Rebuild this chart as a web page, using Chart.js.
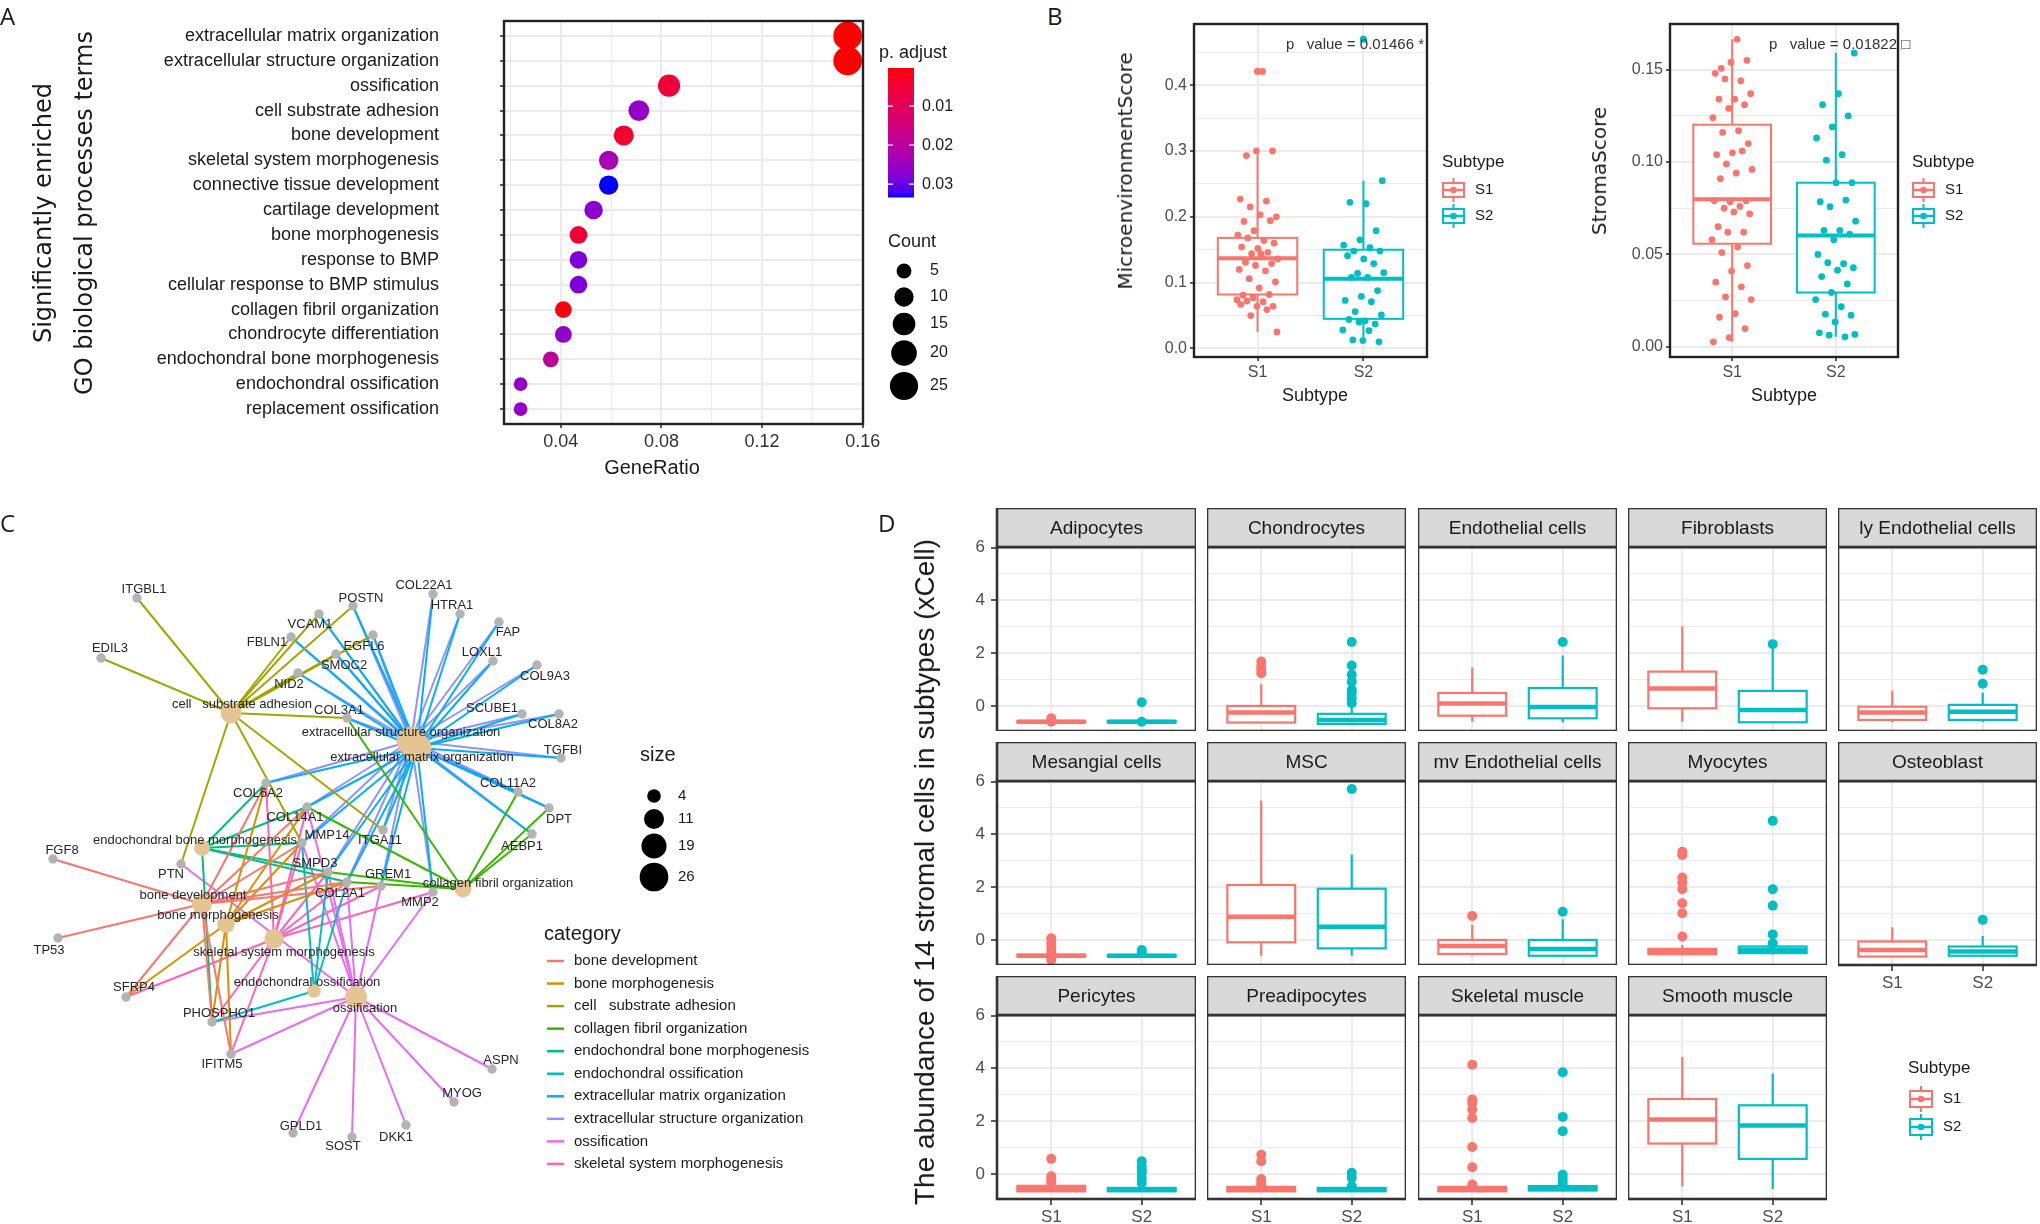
<!DOCTYPE html>
<html>
<head>
<meta charset="utf-8">
<script src="https://cdn.jsdelivr.net/npm/chart.js@4.4.1/dist/chart.umd.min.js"></script>
<style>
html,body{margin:0;padding:0;background:#fff;}
#root{position:relative;width:2040px;height:1224px;overflow:hidden;background:#fff;font-family:"Liberation Sans",Arial,sans-serif;color:#1a1a1a;}
#root canvas{position:absolute;}
.tx{position:absolute;white-space:pre;line-height:1;}
</style>
</head>
<body>
<div id="root"></div>
<script>
// ======================= DATA =======================
// Panel A : GO enrichment dot plot
const goTerms = ['extracellular matrix organization','extracellular structure organization','ossification','cell substrate adhesion','bone development','skeletal system morphogenesis','connective tissue development','cartilage development','bone morphogenesis','response to BMP','cellular response to BMP stimulus','collagen fibril organization','chondrocyte differentiation','endochondral bone morphogenesis','endochondral ossification','replacement ossification'];
const geneRatio = [0.154,0.154,0.083,0.071,0.065,0.059,0.059,0.053,0.047,0.047,0.047,0.041,0.041,0.036,0.024,0.024];
const goCount = [26,26,14,12,11,10,10,9,8,8,8,7,7,6,4,4];
const goPadj = [0.0002,0.0002,0.0057,0.026,0.004,0.0233,0.0333,0.0266,0.0053,0.0283,0.0283,0.001,0.026,0.019,0.026,0.026];
const padjTicks = [0.01,0.02,0.03];
const countLegend = [5,10,15,20,25];

// Panel B : scores by subtype
const subtypes = ['S1','S2'];
const microS1 = [0.421,0.293,0.300,0.300,0.227,0.224,0.215,0.200,0.203,0.193,0.194,0.179,0.172,0.164,0.168,0.160,0.152,0.154,0.146,0.144,0.136,0.139,0.131,0.129,0.126,0.120,0.118,0.106,0.101,0.092,0.081,0.082,0.077,0.074,0.071,0.072,0.064,0.064,0.067,0.059,0.050,0.025,0.144];
const microS2 = [0.255,0.220,0.222,0.179,0.165,0.157,0.153,0.148,0.148,0.136,0.141,0.129,0.114,0.115,0.108,0.108,0.088,0.079,0.073,0.071,0.056,0.051,0.042,0.044,0.037,0.040,0.028,0.027,0.013,0.010,0.012];
const microStatsS1 = [0.025,0.082,0.137,0.168,0.295];
const microStatsS2 = [0.010,0.045,0.106,0.150,0.255];
const microOutS1 = [0.421];
const microOutS2 = [0.470];
const stromaS1 = [0.1664,0.1507,0.155,0.154,0.148,0.144,0.145,0.137,0.134,0.134,0.131,0.129,0.124,0.117,0.116,0.110,0.105,0.104,0.106,0.099,0.096,0.094,0.091,0.079,0.0785,0.079,0.076,0.075,0.072,0.073,0.065,0.062,0.062,0.058,0.054,0.051,0.044,0.041,0.035,0.0325,0.027,0.0256,0.018,0.016,0.0099,0.005,0.0027];
const stromaS2 = [0.159,0.137,0.131,0.125,0.119,0.113,0.104,0.101,0.0888,0.0888,0.0785,0.0794,0.0758,0.068,0.063,0.063,0.061,0.058,0.050,0.045,0.0455,0.0428,0.0415,0.038,0.034,0.0294,0.0256,0.0217,0.0177,0.0171,0.0135,0.0076,0.0054,0.0063,0.0067];
const stromaStatsS1 = [0.0027,0.0558,0.0798,0.1202,0.1664];
const stromaStatsS2 = [0.0054,0.0294,0.0603,0.0888,0.159];
const pValueTexts = ['p   value = 0.01466 *','p   value = 0.01822 \u25A1'];

// Panel C : gene-concept network
const netCategories = ['bone development','bone morphogenesis','cell   substrate adhesion','collagen fibril organization','endochondral bone morphogenesis','endochondral ossification','extracellular matrix organization','extracellular structure organization','ossification','skeletal system morphogenesis'];
const netCategorySize = [11,8,12,7,6,4,26,26,14,10];
const netCategoryGenes = [
  ['FGF8','TP53','SFRP4','COL6A2','COL14A1','MMP14','SMPD3','COL2A1','GREM1','IFITM5','PHOSPHO1'],
  ['COL6A2','COL14A1','MMP14','SMPD3','COL2A1','SFRP4','PHOSPHO1','IFITM5'],
  ['ITGBL1','EDIL3','VCAM1','POSTN','FBLN1','EGFL6','SMOC2','NID2','COL3A1','ITGA11','MMP14','PTN'],
  ['COL3A1','COL11A2','DPT','AEBP1','COL14A1','COL2A1','SMPD3'],
  ['COL6A2','COL14A1','MMP14','SMPD3','COL2A1','PHOSPHO1'],
  ['MMP14','SMPD3','COL2A1','PHOSPHO1'],
  ['POSTN','COL22A1','HTRA1','FAP','LOXL1','COL9A3','SCUBE1','COL8A2','TGFBI','COL11A2','DPT','AEBP1','VCAM1','FBLN1','EGFL6','SMOC2','NID2','COL3A1','COL6A2','COL14A1','MMP14','ITGA11','SMPD3','COL2A1','MMP2','GREM1'],
  ['POSTN','COL22A1','HTRA1','FAP','LOXL1','COL9A3','SCUBE1','COL8A2','TGFBI','COL11A2','DPT','AEBP1','VCAM1','FBLN1','EGFL6','SMOC2','NID2','COL3A1','COL6A2','COL14A1','MMP14','ITGA11','SMPD3','COL2A1','MMP2','GREM1'],
  ['ASPN','MYOG','DKK1','SOST','GPLD1','IFITM5','PHOSPHO1','PTN','MMP2','GREM1','SMPD3','COL2A1','MMP14','COL14A1'],
  ['COL6A2','COL14A1','MMP14','SMPD3','COL2A1','GREM1','MMP2','SFRP4','IFITM5','PHOSPHO1']
];
const netGenes = ['ITGBL1','EDIL3','POSTN','COL22A1','HTRA1','VCAM1','FAP','FBLN1','EGFL6','LOXL1','SMOC2','COL9A3','NID2','SCUBE1','COL8A2','COL3A1','TGFBI','COL11A2','COL6A2','DPT','COL14A1','ITGA11','AEBP1','MMP14','FGF8','PTN','SMPD3','GREM1','COL2A1','MMP2','TP53','SFRP4','PHOSPHO1','IFITM5','ASPN','MYOG','GPLD1','SOST','DKK1'];
const sizeLegend = [4,11,19,26];

// Panel D : xCell abundance of 14 stromal cell types
const cellTypes = ['Adipocytes','Chondrocytes','Endothelial cells','Fibroblasts','ly Endothelial cells','Mesangial cells','MSC','mv Endothelial cells','Myocytes','Osteoblast','Pericytes','Preadipocytes','Skeletal muscle','Smooth muscle'];
// [lower whisker, Q1, median, Q3, upper whisker]
const cellStatsS1 = [
  [-0.66,-0.63,-0.60,-0.57,-0.54],[-0.63,-0.63,-0.25,0.00,0.82],[-0.60,-0.37,0.09,0.49,1.46],[-0.60,-0.09,0.66,1.30,3.01],[-0.62,-0.53,-0.25,-0.03,0.57],
  [-0.66,-0.63,-0.60,-0.56,-0.52],[-0.60,-0.09,0.88,2.08,5.27],[-0.60,-0.53,-0.23,0.00,0.57],[-0.58,-0.54,-0.44,-0.34,-0.19],[-0.63,-0.63,-0.38,-0.06,0.48],
  [-0.68,-0.66,-0.56,-0.45,-0.36],[-0.68,-0.66,-0.58,-0.49,-0.45],[-0.68,-0.66,-0.57,-0.49,-0.45],[-0.47,1.15,2.06,2.84,4.43]];
const cellStatsS2 = [
  [-0.66,-0.63,-0.60,-0.57,-0.54],[-0.68,-0.68,-0.53,-0.30,-0.03],[-0.62,-0.47,-0.04,0.68,1.91],[-0.62,-0.62,-0.15,0.57,2.15],[-0.62,-0.53,-0.22,0.04,0.50],
  [-0.66,-0.63,-0.60,-0.57,-0.54],[-0.60,-0.32,0.50,1.94,3.24],[-0.62,-0.60,-0.34,0.00,0.78],[-0.55,-0.50,-0.38,-0.25,-0.18],[-0.63,-0.60,-0.44,-0.25,0.15],
  [-0.68,-0.66,-0.59,-0.53,-0.45],[-0.68,-0.66,-0.59,-0.53,-0.47],[-0.66,-0.63,-0.55,-0.46,-0.40],[-0.57,0.57,1.83,2.60,3.80]];
const cellOutS1 = [[-0.47,-0.60],[1.68,1.49,1.37,1.24],[],[],[],[0.06,-0.13,-0.32,-0.48,-0.76],[],[0.91],[3.34,3.22,2.36,2.17,1.92,1.39,1.01,0.13],[],[0.57,-0.09,-0.19,-0.32],[0.73,0.48,-0.19,-0.32,-0.44],[4.14,2.82,2.69,2.44,2.12,1.02,0.25,-0.40],[]];
const cellOutS2 = [[0.14,-0.60],[2.42,1.53,1.18,0.92,0.60,0.48,0.29,0.10],[2.42],[2.34],[1.37,0.84],[-0.38,-0.50],[5.72],[1.07],[4.51,1.92,1.30,0.21,-0.13],[0.76],[0.48,0.29,0.16,0.04,-0.15,-0.34],[0.04,-0.15,-0.47],[3.85,2.16,1.62,-0.03,-0.19,-0.34],[]];

// ======================= LAYOUT / STYLE =======================
const netGeneXY = {ITGBL1:[137,598],EDIL3:[101,658],POSTN:[353,606],COL22A1:[433,594],HTRA1:[460,614],VCAM1:[319,614],FAP:[499,622],FBLN1:[291,637],EGFL6:[373,635],LOXL1:[493,661],SMOC2:[336,654],COL9A3:[537,665],NID2:[298,673],SCUBE1:[522,714],COL8A2:[559,714],COL3A1:[347,718],TGFBI:[561,758],COL11A2:[518,792],COL6A2:[266,783],DPT:[549,808],COL14A1:[307,807],ITGA11:[383,830],AEBP1:[532,834],MMP14:[302,843],FGF8:[53,859],PTN:[181,864],SMPD3:[328,872],GREM1:[381,886],COL2A1:[347,882],MMP2:[433,892],TP53:[58,938],SFRP4:[126,997],PHOSPHO1:[212,1022],IFITM5:[231,1054],ASPN:[492,1069],MYOG:[454,1102],GPLD1:[293,1133],SOST:[352,1137],DKK1:[406,1125]};
const netGeneLabelOff = {ITGBL1:[7,-9],EDIL3:[9,-10],POSTN:[8,-8],COL22A1:[-9,-9],HTRA1:[-8,-9],VCAM1:[-9,10],FAP:[9,10],FBLN1:[-24,5],EGFL6:[-9,11],LOXL1:[-11,-9],SMOC2:[8,11],COL9A3:[8,11],NID2:[-9,11],SCUBE1:[-30,-6],COL8A2:[-6,10],COL3A1:[-8,-8],TGFBI:[2,-8],COL11A2:[-10,-9],COL6A2:[-8,10],DPT:[10,11],COL14A1:[-12,10],ITGA11:[-3,10],AEBP1:[-10,12],MMP14:[25,-8],FGF8:[9,-9],PTN:[-10,10],SMPD3:[-13,-9],GREM1:[7,-12],COL2A1:[-7,11],MMP2:[-13,10],TP53:[-9,12],SFRP4:[8,-10],PHOSPHO1:[7,-9],IFITM5:[-9,10],ASPN:[9,-9],MYOG:[8,-9],GPLD1:[8,-7],SOST:[-9,9],DKK1:[-10,12]};
const netTermXY = [[202,904],[226,924],[231,713],[463,889],[202,848],[314,991],[417,748],[411,741],[356,997],[274,939]];
const netTermLabelOff = [[-9,-9],[-8,-9],[11,-9],[35,-6],[-7,-8],[-7,-9],[5,9],[-10,-9],[9,11],[10,13]];
const netColors = ['#F8766D','#D89000','#A3A500','#39B600','#00BF7D','#00BFC4','#00B0F6','#9590FF','#E76BF3','#FF62BC'];

const S1C = '#F8766D', S2C = '#00BFC4';
const FONT = '"Liberation Sans", Arial, sans-serif';
const WIDE = '"DejaVu Sans", Verdana, sans-serif';
const GRIDC = '#EBEBEB';

Chart.defaults.font.family = FONT;
Chart.defaults.animation = false;
Chart.defaults.responsive = false;
Chart.defaults.events = [];
Chart.defaults.layout.autoPadding = false;
Chart.defaults.plugins.legend.display = false;
Chart.defaults.plugins.tooltip.enabled = false;

const root = document.getElementById('root');
function mk(l,t,w,h){const c=document.createElement('canvas');c.width=w;c.height=h;c.style.left=l+'px';c.style.top=t+'px';c.style.width=w+'px';c.style.height=h+'px';root.appendChild(c);return c;}
function addText(str,x,y,o={}){const d=document.createElement('div');d.className='tx';d.textContent=str;d.style.left=x+'px';d.style.top=y+'px';d.style.fontSize=(o.size||16)+'px';d.style.fontFamily=o.family||FONT;if(o.color)d.style.color=o.color;if(o.weight)d.style.fontWeight=o.weight;const ax=o.align==='center'?'-50%':(o.align==='right'?'-100%':'0');d.style.transform=`translate(${ax},-50%)`+(o.rotate?' rotate(-90deg)':'');root.appendChild(d);return d;}
const fitY = w => s => { s.width = w; s.paddingTop = 0; s.paddingBottom = 0; };
const fitX = h => s => { s.height = h; s.paddingLeft = 0; s.paddingRight = 0; };

// size scale (bubble radius from count)
const sizeR = n => 2.0 + 2.42*Math.sqrt(n);
// ggplot-like red->blue gradient in CIELAB
function s2l(c){c/=255;return c<=0.04045?c/12.92:Math.pow((c+0.055)/1.055,2.4);}
function l2s(v){v=v<=0.0031308?12.92*v:1.055*Math.pow(Math.max(v,0),1/2.4)-0.055;return Math.round(Math.max(0,Math.min(1,v))*255);}
function rgb2lab(r,g,b){const R=s2l(r),G=s2l(g),B=s2l(b);const X=(0.4124*R+0.3576*G+0.1805*B)/0.95047,Y=0.2126*R+0.7152*G+0.0722*B,Z=(0.0193*R+0.1192*G+0.9505*B)/1.08883;const f=t=>t>0.008856?Math.cbrt(t):7.787*t+16/116;const fx=f(X),fy=f(Y),fz=f(Z);return [116*fy-16,500*(fx-fy),200*(fy-fz)];}
function lab2rgb(L,a,b){const fy=(L+16)/116,fx=fy+a/500,fz=fy-b/200;const fi=t=>t>0.206893?t*t*t:(t-16/116)/7.787;const X=fi(fx)*0.95047,Y=fi(fy),Z=fi(fz)*1.08883;const R=3.2406*X-1.5372*Y-0.4986*Z,G=-0.9689*X+1.8758*Y+0.0415*Z,B=0.0557*X-0.2040*Y+1.0570*Z;return `rgb(${l2s(R)},${l2s(G)},${l2s(B)})`;}
const LAB_R=rgb2lab(255,0,0), LAB_B=rgb2lab(0,0,255);
const P_MIN=Math.min(...goPadj), P_MAX=Math.max(...goPadj);
function padjColor(p){let t=(p-P_MIN)/(P_MAX-P_MIN);t=Math.max(0,Math.min(1,t));return lab2rgb(...LAB_R.map((v,i)=>v+(LAB_B[i]-v)*t));}
// deterministic jitter (layout only)
const jit = i => ((((i+1)*0.6180339887)%1)-0.5)*0.4;
const isMult = (v,s) => Math.abs(v/s-Math.round(v/s))<1e-6;

const framePlugin = {id:'frame', afterDatasetsDraw(ch,args,opts){const a=ch.chartArea,c=ch.ctx;c.save();c.strokeStyle=opts.color||'#333';c.lineWidth=opts.lw||2.2;c.strokeRect(a.left,a.top,a.right-a.left,a.bottom-a.top);c.restore();}};

function boxesPlugin(stats,colors,lw,mlw){
  return {id:'boxes', beforeDatasetsDraw(ch){
    const xs=ch.scales.x, ys=ch.scales.y, c=ch.ctx, a=ch.chartArea;
    c.save(); c.beginPath(); c.rect(a.left,a.top,a.right-a.left,a.bottom-a.top); c.clip();
    stats.forEach((s,k)=>{
      const xm=xs.getPixelForValue(k+1), x0=xs.getPixelForValue(k+1-0.375), x1=xs.getPixelForValue(k+1+0.375);
      const [lo,q1,md,q3,hi]=s.map(v=>ys.getPixelForValue(v));
      c.strokeStyle=colors[k]; c.lineWidth=lw;
      c.beginPath(); c.moveTo(xm,hi); c.lineTo(xm,q3); c.moveTo(xm,q1); c.lineTo(xm,lo); c.stroke();
      c.fillStyle='#fff'; c.fillRect(x0,q3,x1-x0,q1-q3); c.strokeRect(x0,q3,x1-x0,q1-q3);
      c.lineWidth=mlw; c.beginPath(); c.moveTo(x0,md); c.lineTo(x1,md); c.stroke();
    });
    c.restore();
  }};
}
function drawBoxKey(c,x,yc,color,w,h){
  c.save(); c.strokeStyle=color; c.lineWidth=2;
  c.beginPath(); c.moveTo(x+w/2,yc-h/2-5); c.lineTo(x+w/2,yc+h/2+5); c.stroke();
  c.fillStyle='#fff'; c.fillRect(x,yc-h/2,w,h); c.strokeRect(x,yc-h/2,w,h);
  c.lineWidth=2.5; c.beginPath(); c.moveTo(x,yc); c.lineTo(x+w,yc); c.stroke();
  c.fillStyle=color; c.beginPath(); c.arc(x+w/2,yc,3.3,0,Math.PI*2); c.fill();
  c.restore();
}
function subtypeLegend(c,ox,oy,tx,ty,kx,ys,lx,w,h){
  c.save(); c.fillStyle='#1a1a1a'; c.textBaseline='middle'; c.textAlign='left';
  c.font='17px '+FONT; c.fillText('Subtype',tx-ox,ty-oy);
  c.font='15px '+FONT;
  [S1C,S2C].forEach((col,k)=>{drawBoxKey(c,kx-ox,ys[k]-oy,col,w,h); c.fillStyle='#1a1a1a'; c.fillText(subtypes[k],lx-ox,ys[k]-oy);});
  c.restore();
}
function gridOpts(majorFn,drawTicks,tickLen){
  return {color:GRIDC, lineWidth:c=>(c.tick&&majorFn(c.tick.value))?2:1, drawTicks:drawTicks, tickLength:tickLen,
    tickColor:c=>(c.tick&&majorFn(c.tick.value))?'#333':'rgba(0,0,0,0)', tickWidth:1.6};
}

// ======================= PANEL A =======================
(function(){
  const cv = mk(0,0,980,490);
  new Chart(cv,{type:'scatter',
    data:{datasets:[{data:goTerms.map((t,i)=>({x:geneRatio[i],y:i})),
      pointRadius:c=>sizeR(goCount[c.dataIndex]), pointBackgroundColor:c=>padjColor(goPadj[c.dataIndex]), pointBorderWidth:0}]},
    options:{layout:{padding:{left:0,right:117,top:21,bottom:0}},
      scales:{
        x:{type:'linear',min:0.0174,max:0.1601,afterFit:fitX(66),border:{display:false},
           ticks:{stepSize:0.02,includeBounds:false,autoSkip:false,maxRotation:0,padding:3,color:'#333',font:{size:18},callback:v=>isMult(v,0.04)?v.toFixed(2):''},
           grid:gridOpts(v=>isMult(v,0.04),true,4)},
        y:{type:'linear',reverse:true,min:-0.6,max:15.6,afterFit:fitY(504),border:{display:false},
           ticks:{stepSize:1,includeBounds:false,autoSkip:false,padding:61,color:'#1a1a1a',font:{size:18},callback:v=>goTerms[v]??''},
           grid:{color:GRIDC,lineWidth:2,tickLength:4,tickColor:'#333',tickWidth:1.6}}
      },
      plugins:{frame:{lw:2.4,color:'#222'}}},
    plugins:[framePlugin,{id:'legA',afterDraw(ch){
      const c=ch.ctx; c.save(); c.textBaseline='middle'; c.textAlign='left'; c.fillStyle='#1a1a1a';
      c.font='18px '+FONT; c.fillText('p. adjust',879,53);
      const top=68,bot=197,x0=888,w=26;
      for(let y=top;y<bot;y++){const p=P_MIN+(y+0.5-top)/(bot-top)*(P_MAX-P_MIN);c.fillStyle=padjColor(p);c.fillRect(x0,y,w,1.5);}
      c.font='16px '+FONT;
      padjTicks.forEach(p=>{const y=top+(p-P_MIN)/(P_MAX-P_MIN)*(bot-top);c.strokeStyle='#fff';c.lineWidth=1.3;c.beginPath();c.moveTo(x0,y);c.lineTo(x0+5,y);c.moveTo(x0+w-5,y);c.lineTo(x0+w,y);c.stroke();c.fillStyle='#1a1a1a';c.fillText(p.toFixed(2),922,y);});
      c.font='18px '+FONT; c.fillText('Count',888,242);
      const ys=[271,297,324,353,386];
      countLegend.forEach((n,k)=>{c.fillStyle='#000';c.beginPath();c.arc(904,ys[k],sizeR(n),0,Math.PI*2);c.fill();c.fillStyle='#1a1a1a';c.font='16px '+FONT;c.fillText(String(n),930,ys[k]);});
      c.restore();}}]
  });
  addText('A',0,16,{size:24,family:'"Open Sans",'+FONT});
  addText('Significantly enriched',42.5,213,{size:24,family:WIDE,align:'center',rotate:true});
  addText('GO biological processes terms',84,213,{size:24,family:WIDE,align:'center',rotate:true});
  addText('GeneRatio',652,467,{size:20,align:'center'});
})();

// ======================= PANEL B =======================
function panelB(o){
  const H=420, cv=mk(o.cl,0,o.cw,H);
  new Chart(cv,{type:'scatter',
    data:{datasets:[
      {data:o.pts[0].map((v,i)=>({x:1+jit(i),y:v})),backgroundColor:S1C,borderWidth:0,pointRadius:3.4},
      {data:o.pts[1].map((v,i)=>({x:2+jit(i+7),y:v})),backgroundColor:S2C,borderWidth:0,pointRadius:3.4},
      {data:o.outs[0].map(v=>({x:1,y:v})),backgroundColor:S1C,borderWidth:0,pointRadius:3.6},
      {data:o.outs[1].map(v=>({x:2,y:v})),backgroundColor:S2C,borderWidth:0,pointRadius:3.6}]},
    options:{layout:{padding:{left:0,top:24,right:o.cw-(o.plotR-o.cl),bottom:0}},
      scales:{
        x:{type:'linear',min:0.4,max:2.6,afterFit:fitX(H-357),border:{display:false},
           ticks:{stepSize:1,includeBounds:false,autoSkip:false,maxRotation:0,padding:2,color:'#4d4d4d',font:{size:16},callback:v=>subtypes[v-1]??''},
           grid:gridOpts(()=>true,true,4)},
        y:{type:'linear',min:o.ymin,max:o.ymax,afterFit:fitY(o.plotL-o.cl),border:{display:false},
           ticks:{stepSize:o.step,includeBounds:false,autoSkip:false,padding:3,color:'#4d4d4d',font:{size:16},callback:v=>isMult(v,o.major)?v.toFixed(o.dec):''},
           grid:gridOpts(v=>isMult(v,o.major),true,4)}
      },
      plugins:{frame:{lw:2.4,color:'#222'}}},
    plugins:[boxesPlugin(o.stats,[S1C,S2C],2,4),framePlugin,{id:'legB',afterDraw(ch){subtypeLegend(ch.ctx,o.cl,0,o.legX,162,o.legX+1,[190,216],o.legX+33,21,14);}}]
  });
}
panelB({cl:1100,cw:420,plotL:1194,plotR:1427,ymin:-0.013,ymax:0.493,step:0.05,major:0.1,dec:1,pts:[microS1,microS2],outs:[microOutS1,microOutS2],stats:[microStatsS1,microStatsS2],legX:1442});
panelB({cl:1600,cw:440,plotL:1670,plotR:1898,ymin:-0.0055,ymax:0.1747,step:0.025,major:0.05,dec:2,pts:[stromaS1,stromaS2],outs:[[],[]],stats:[stromaStatsS1,stromaStatsS2],legX:1912});
addText('B',1047,16,{size:24,family:'"Open Sans",'+FONT});
addText('MicroenvironmentScore',1125,171,{size:20,family:WIDE,align:'center',rotate:true});
addText('StromaScore',1599,171,{size:20,family:WIDE,align:'center',rotate:true});
addText('Subtype',1315,395,{size:18,align:'center'});
addText('Subtype',1784,395,{size:18,align:'center'});
addText(pValueTexts[0],1286,43,{size:15,color:'#333'});
addText(pValueTexts[1],1769,43,{size:15,color:'#333'});

// ======================= PANEL C =======================
(function(){
  const CT=490, cv=mk(0,CT,880,734);
  const datasets=[];
  netCategories.forEach((cat,k)=>{
    netCategoryGenes[k].forEach(g=>{
      datasets.push({data:[{x:netTermXY[k][0],y:netTermXY[k][1]},{x:netGeneXY[g][0],y:netGeneXY[g][1]}],
        showLine:true,borderColor:netColors[k],borderWidth:2,pointRadius:0,order:10});
    });
  });
  datasets.push({data:netGenes.map(g=>({x:netGeneXY[g][0],y:netGeneXY[g][1]})),pointRadius:4.7,backgroundColor:'#B3B3B3',borderWidth:0,order:2});
  datasets.push({data:netCategories.map((t,k)=>({x:netTermXY[k][0],y:netTermXY[k][1]})),pointRadius:c=>sizeR(netCategorySize[c.dataIndex]),backgroundColor:'#E5C494',borderWidth:0,order:1});
  new Chart(cv,{type:'scatter',data:{datasets},
    options:{layout:{padding:0},scales:{x:{type:'linear',display:false,min:0,max:880},y:{type:'linear',display:false,min:CT,max:1224,reverse:true}}},
    plugins:[{id:'net',afterDatasetsDraw(ch){
      const xs=ch.scales.x, ys=ch.scales.y, c=ch.ctx;
      c.save(); c.font='13px '+FONT; c.fillStyle='#262626'; c.textAlign='center'; c.textBaseline='middle';
      netGenes.forEach(g=>{const p=netGeneXY[g],o=netGeneLabelOff[g];c.fillText(g,xs.getPixelForValue(p[0]+o[0]),ys.getPixelForValue(p[1]+o[1]));});
      netCategories.forEach((t,k)=>{const p=netTermXY[k],o=netTermLabelOff[k];c.fillText(t,xs.getPixelForValue(p[0]+o[0]),ys.getPixelForValue(p[1]+o[1]));});
      // legends
      c.textAlign='left'; c.fillStyle='#1a1a1a';
      c.font='20px '+FONT; c.fillText('size',640,755-CT);
      const sy=[796,819,846,877];
      c.font='15px '+FONT;
      sizeLegend.forEach((n,k)=>{c.fillStyle='#000';c.beginPath();c.arc(654,sy[k]-CT,sizeR(n),0,Math.PI*2);c.fill();c.fillStyle='#1a1a1a';c.fillText(String(n),678,sy[k]-CT);});
      c.font='20px '+FONT; c.fillText('category',544,934-CT);
      c.font='15px '+FONT;
      netCategories.forEach((t,k)=>{const y=961+k*22.55-CT;c.strokeStyle=netColors[k];c.lineWidth=2.5;c.beginPath();c.moveTo(547,y);c.lineTo(564,y);c.stroke();c.fillStyle='#1a1a1a';c.fillText(t,574,y);});
      c.restore();
    }}]
  });
  addText('C',0,523,{size:24,family:'"Open Sans",'+FONT});
})();

// ======================= PANEL D =======================
(function(){
  const colL=[997,1207.4,1417.7,1628,1838.4], rowT=[508,742,976], STRIP=39, PH=184, PW=199;
  cellTypes.forEach((name,i)=>{
    const r=Math.floor(i/5), col=i%5;
    const first=col===0, bottom=(r===2)||(r===1&&col===4);
    const yW=first?60:0, xH=bottom?30:0, extra=(i===9)?150:0;
    const cl=Math.round(colL[col]-yW), ct=rowT[r], cw=PW+yW, ch=STRIP+PH+xH+extra;
    const cv=mk(cl,ct,cw,ch);
    new Chart(cv,{type:'scatter',
      data:{datasets:[
        {data:cellOutS1[i].map(v=>({x:1,y:v})),backgroundColor:S1C,borderWidth:0,pointRadius:5},
        {data:cellOutS2[i].map(v=>({x:2,y:v})),backgroundColor:S2C,borderWidth:0,pointRadius:5}]},
      options:{layout:{padding:{left:0,right:0,top:STRIP,bottom:extra}},
        scales:{
          x:{type:'linear',min:0.4,max:2.6,afterFit:fitX(xH),border:{display:false},
             ticks:{display:bottom,stepSize:1,includeBounds:false,autoSkip:false,maxRotation:0,padding:2,color:'#4d4d4d',font:{size:17},callback:v=>subtypes[v-1]??''},
             grid:gridOpts(()=>true,bottom,6)},
          y:{type:'linear',min:-0.95,max:6.02,afterFit:fitY(yW),border:{display:false},
             ticks:{display:first,stepSize:1,includeBounds:false,autoSkip:false,padding:6,color:'#4d4d4d',font:{size:17},callback:v=>isMult(v,2)?String(v):''},
             grid:gridOpts(v=>isMult(v,2),first,6)}
        },
        plugins:{frame:{lw:2.6,color:'#333'}}},
      plugins:[boxesPlugin([cellStatsS1[i],cellStatsS2[i]],[S1C,S2C],2.2,4.5),framePlugin,
        {id:'strip',afterDraw(chh){const a=chh.chartArea,c=chh.ctx;c.save();c.fillStyle='#D9D9D9';c.fillRect(a.left,a.top-STRIP,a.right-a.left,STRIP);c.strokeStyle='#333';c.lineWidth=2.6;c.strokeRect(a.left,a.top-STRIP,a.right-a.left,STRIP);
          c.fillStyle='#1a1a1a';c.font='19px '+FONT;c.textAlign='center';c.textBaseline='middle';c.fillText(name,(a.left+a.right)/2,a.top-STRIP/2+1);
          if(i===9){subtypeLegend(c,cl,ct,1908,1068,1910,[1099,1127],1943,22,16);}
          c.restore();}}]
    });
  });
  addText('D',878,523,{size:24,family:'"Open Sans",'+FONT});
  addText('The abundance of 14 stromal cells in subtypes (xCell)',925,872,{size:28,family:FONT,align:'center',rotate:true});
})();
</script>
</body>
</html>
